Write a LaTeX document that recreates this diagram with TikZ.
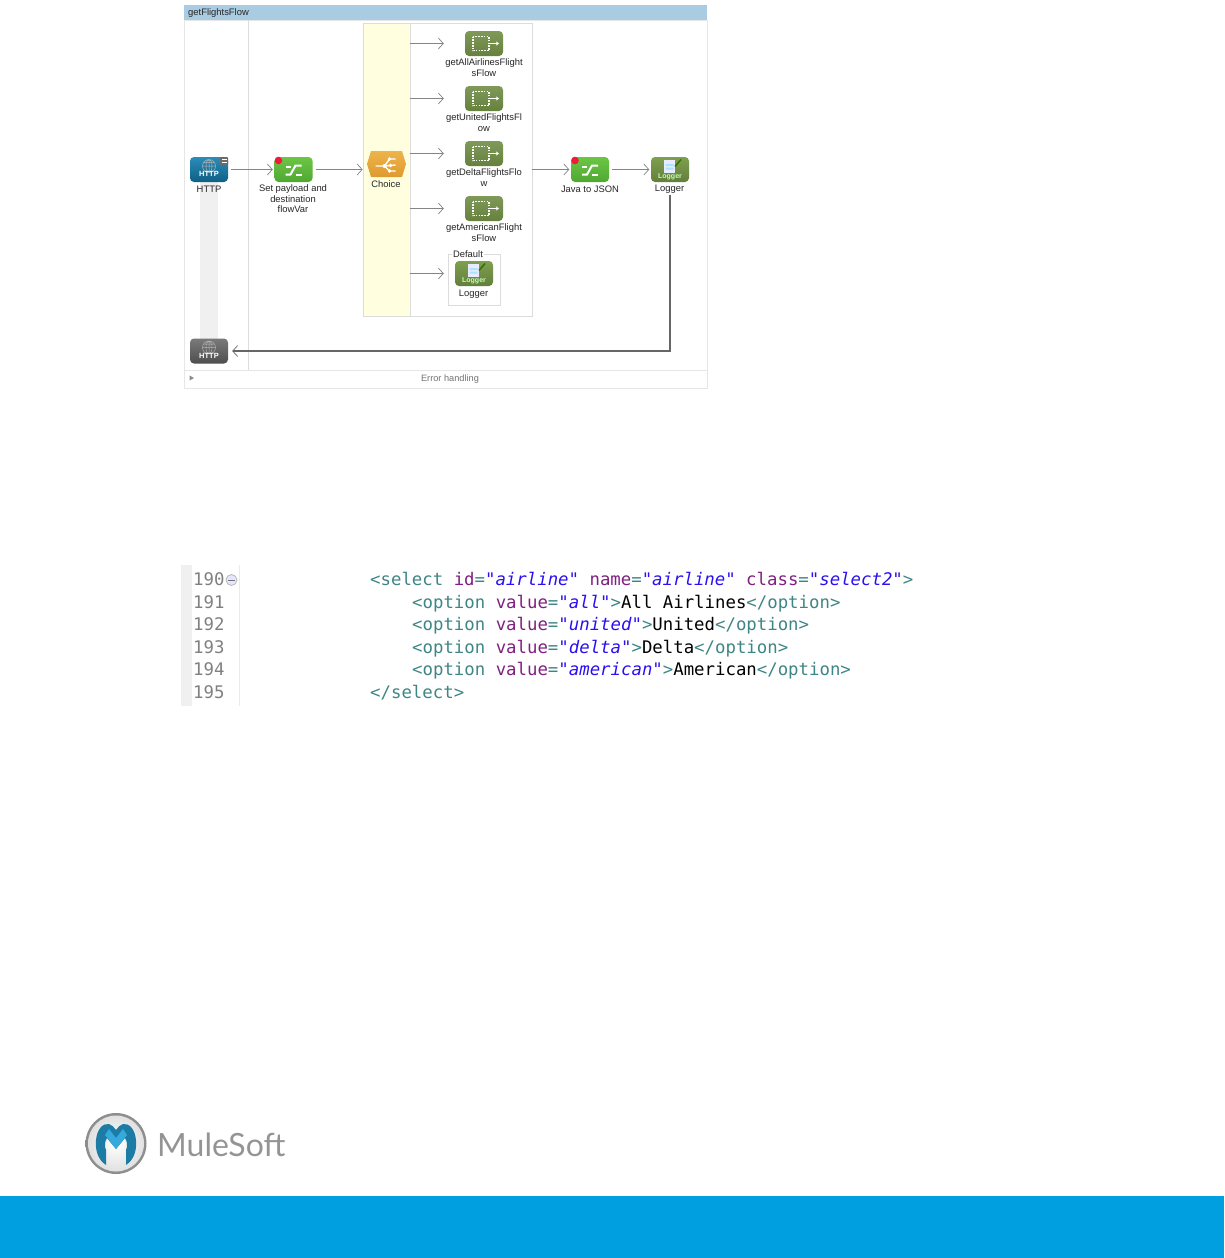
\documentclass[tikz,border=0pt]{standalone}
\usepackage{fontspec}
\setmainfont{Liberation Sans}
\newfontfamily\codefont{DejaVu Sans Mono}
\newfontfamily\logofont{Lato}
\usetikzlibrary{arrows.meta,calc,shapes.geometric}
\definecolor{tagc}{HTML}{3F8585}
\definecolor{attrc}{HTML}{7F1F7F}
\definecolor{valc}{HTML}{2A10F0}
\definecolor{framec}{HTML}{DCDCDC}
\definecolor{connc}{HTML}{858585}
\definecolor{titlec}{HTML}{A9CCE2}
\definecolor{barc}{HTML}{009FE0}
\definecolor{laneyc}{HTML}{FFFFE0}
\definecolor{httpT}{HTML}{2A8DB8}
\definecolor{httpB}{HTML}{0F5F85}
\definecolor{retT}{HTML}{7A7A7A}
\definecolor{retB}{HTML}{4E4E4E}
\definecolor{greenT}{HTML}{6CC644}
\definecolor{greenB}{HTML}{4FA832}
\definecolor{oliveT}{HTML}{7F9A58}
\definecolor{oliveB}{HTML}{66813E}
\definecolor{logT}{HTML}{7E9F50}
\definecolor{logB}{HTML}{637F3A}
\definecolor{hexT}{HTML}{EDB44C}
\definecolor{hexB}{HTML}{DE9A2E}
\definecolor{logoD}{HTML}{1D7CA6}
\definecolor{logoL}{HTML}{35A9DC}
\definecolor{dotc}{HTML}{EE1C3A}
\tikzset{
  conn/.style={draw=connc,line width=.9pt,-{Straight Barb[length=5pt,width=11pt,line width=.7pt]}},
  frameline/.style={draw=framec,line width=.8pt},
  iconbase/.style={rounded corners=4pt,minimum width=38pt,minimum height=25pt,inner sep=0pt,draw=none},
  httpicon/.style={iconbase,top color=httpT,bottom color=httpB},
  reticon/.style={iconbase,top color=retT,bottom color=retB},
  switchicon/.style={iconbase,top color=greenT,bottom color=greenB},
  flowicon/.style={iconbase,top color=oliveT,bottom color=oliveB},
  logicon/.style={iconbase,top color=logT,bottom color=logB},
  lbl/.style={font=\fontsize{9.4}{10.6}\selectfont,align=center,inner sep=0pt,text=black!85},
  glyph/.style={draw=white,line width=2pt},
  code/.style={font=\codefont\fontsize{17.35}{20}\selectfont,anchor=base west,inner sep=0pt,text=tagc},
  lineno/.style={font=\codefont\fontsize{17.35}{20}\selectfont,anchor=base west,inner sep=0pt,text=black!50}
}
\newcommand{\tg}[1]{\textcolor{tagc}{#1}}
\newcommand{\at}[1]{\textcolor{attrc}{#1}}
\newcommand{\vl}[1]{\textcolor{valc}{\itshape #1}}
\newcommand{\tx}[1]{\textcolor{black}{#1}}
\newcommand{\switchglyph}[1]{%
  \begin{scope}[shift={(#1.center)}]
    \draw[glyph] (-8,-3)--(-3,-3);
    \draw[glyph] (-8,5)--(-3,5)--(2,-4)--(8,-4);
    \draw[glyph] (2,5)--(8,5);
    \fill[dotc] (-15,-9) circle (3.8);
  \end{scope}}
\newcommand{\flowglyph}[1]{%
  \begin{scope}[shift={(#1.center)}]
    \draw[white,line width=1.2pt,dash pattern=on 1.6pt off 1.2pt] (-11,-7) rectangle (5,7);
    \draw[white,line width=1.2pt,-{Stealth[length=3pt,width=4pt]}] (5,0)--(15,0);
  \end{scope}}
\newcommand{\loggerglyph}[1]{%
  \begin{scope}[shift={(#1.center)}]
    \fill[white!92!blue] (-6,-9.5) rectangle (5,3);
    \fill[blue!30!cyan!35!white] (-4.5,-5.5) rectangle (3.5,-3.5) (-4.5,-2) rectangle (3.5,0);
    \draw[black!70!green!80!yellow,line width=1.5pt] (5,-3)--(11,-10);
    \node[font=\bfseries\fontsize{7}{7}\selectfont,text=white!75!green,inner sep=0pt] (#1-t) at (0,7) {Logger};
  \end{scope}}
\newcommand{\httpglyph}[1]{%
  \begin{scope}[shift={(#1.center)}]
    \draw[white!70!black,line width=.5pt] (0,-3.5) circle (6.5) (0,-3.5) ellipse (3 and 6.5) (-6.5,-3.5)--(6.5,-3.5) (-5.5,-7)--(5.5,-7) (0,-10)--(0,3);
    \node[font=\bfseries\fontsize{7.5}{7}\selectfont,text=white,inner sep=0pt] (#1-t) at (0,4.5) {HTTP};
  \end{scope}}
\begin{document}
\begin{tikzpicture}[x=1pt,y=-1pt]
\useasboundingbox (0,0) rectangle (1224,1258);
% flow frame
\node[draw=framec!70,line width=.8pt,minimum width=523pt,minimum height=368pt,inner sep=0pt,fill=white] (frame) at (445.5,204) {};
\node[fill=black!6,minimum width=18pt,minimum height=160pt,inner sep=0pt] (band) at (209,260) {};
\draw[frameline] (248,20) -- (248,370);
\node[fill=white,minimum width=523pt,minimum height=18pt,inner sep=0pt,draw=framec!70,line width=.8pt] (errbar) at (445.5,379) {};
\node[fill=titlec,minimum width=523pt,minimum height=15pt,inner sep=0pt] (title) at (445.5,12.5) {};
\node[font=\fontsize{9.4}{10}\selectfont,anchor=west,inner sep=0pt,text=black!85] (titlet) at (188,13) {getFlightsFlow};
\node[font=\fontsize{9.2}{10}\selectfont,inner sep=0pt,text=black!55] (errt) at (450,379.5) {Error handling};
\node[fill=black!45,regular polygon,regular polygon sides=3,shape border rotate=-90,minimum size=6pt,inner sep=0pt] (tri) at (191,378) {};
% choice
\node[draw=framec,line width=.8pt,fill=white,minimum width=169pt,minimum height=293pt,inner sep=0pt] (outer) at (447.5,169.5) {};
\node[draw=framec,line width=.8pt,fill=laneyc,minimum width=47pt,minimum height=293pt,inner sep=0pt] (lane) at (386.5,169.5) {};
% source
\node[httpicon] (http) at (209,169.5) {};
\httpglyph{http}
\node[fill=black!58,minimum size=8pt,inner sep=0pt,rounded corners=1pt] (httpx) at (224,161) {};
\draw[white,line width=.7pt] (221.5,159.5)--(226.5,159.5) (221.5,162.5)--(226.5,162.5);
\node[lbl] (httpl) at (209,189.5) {HTTP};
% return http
\node[reticon] (ret) at (209,351) {};
\httpglyph{ret}
% set payload
\node[switchicon] (setp) at (293.5,169.5) {};
\switchglyph{setp}
\node[lbl,anchor=north] (setpl) at (293,184.5) {Set payload and\\destination\\flowVar};
% choice icon
\coordinate (chc) at (386.5,164);
\path[top color=hexT,bottom color=hexB] (367,164)--(371,151)--(402,151)--(406,164)--(402,177)--(371,177)--cycle;
\begin{scope}[shift={(chc)}]
  \draw[white,line width=1.4pt] (-11,2)--(-2,2)--(3,-5)--(9,-5) (-2,2)--(9,1) (-2,2)--(3,7)--(9,7);
  \fill[white] (-2,2) circle (2) (3,-5) circle (1.8) (4,1.5) circle (1.8) (3,7) circle (1.8);
\end{scope}
\node[lbl] (chl) at (386,184) {Choice};
% flow refs
\node[flowicon] (r1) at (484,43.5) {};
\node[flowicon] (r2) at (484,98.5) {};
\node[flowicon] (r3) at (484,153.5) {};
\node[flowicon] (r4) at (484,208.5) {};
\flowglyph{r1}\flowglyph{r2}\flowglyph{r3}\flowglyph{r4}
\node[lbl,anchor=north] (r1l) at (484,58.5) {getAllAirlinesFlight\\sFlow};
\node[lbl,anchor=north] (r2l) at (484,113.5) {getUnitedFlightsFl\\ow};
\node[lbl,anchor=north] (r3l) at (484,168.5) {getDeltaFlightsFlo\\w};
\node[lbl,anchor=north] (r4l) at (484,223.5) {getAmericanFlight\\sFlow};
% default
\node[draw=framec,line width=.8pt,minimum width=52pt,minimum height=51pt,inner sep=0pt] (def) at (474,279.5) {};
\node[lbl,fill=white,inner xsep=1pt,inner ysep=0pt] (deft) at (468,254.5) {Default};
\node[logicon] (dl) at (474,273.5) {};
\loggerglyph{dl}
\node[lbl] (dll) at (473.5,294.5) {Logger};
% java to json
\node[switchicon] (java) at (590,169.5) {};
\switchglyph{java}
\node[lbl] (javal) at (590,189.5) {Java to JSON};
% logger
\node[logicon] (log) at (670,169.5) {};
\loggerglyph{log}
\node[lbl] (logl) at (669.5,189.5) {Logger};
% connectors
\draw[conn,shorten <=3pt,shorten >=1.5pt] (http) -- (setp);
\draw[conn,shorten <=3pt] (setp) -- (setp -| lane.west);
\draw[conn] (lane.east |- r1) -- ([xshift=-21pt]r1.west);
\draw[conn] (lane.east |- r2) -- ([xshift=-21pt]r2.west);
\draw[conn] (lane.east |- r3) -- ([xshift=-21pt]r3.west);
\draw[conn] (lane.east |- r4) -- ([xshift=-21pt]r4.west);
\draw[conn] (lane.east |- dl) -- ([xshift=-11pt]dl.west);
\draw[conn,shorten >=1.5pt] (outer.east |- java) -- (java);
\draw[conn,shorten <=3pt,shorten >=1.5pt] (java) -- (log);
\draw[conn,draw=black!60,line width=1.1pt,shorten <=1pt,shorten >=4pt] (logl.south -| log) -- (log |- ret) -- (ret.east);
% code
\node[fill=black!6,minimum width=11pt,minimum height=141pt,inner sep=0pt] (gutter) at (186.5,635.5) {};
\draw[black!8,line width=.8pt] (239,565) -- (239,706);
\node[circle,draw=black!30,fill=blue!10!white,minimum size=11pt,inner sep=0pt,line width=.7pt] (fold) at (231.5,580) {};
\draw[black!55,line width=.8pt] (228,580) -- (235,580);
\node[lineno] (n0) at (193,585.5) {190};
\node[lineno] (n1) at (193,608) {191};
\node[lineno] (n2) at (193,630.5) {192};
\node[lineno] (n3) at (193,653) {193};
\node[lineno] (n4) at (193,675.5) {194};
\node[lineno] (n5) at (193,698) {195};
\node[code] (c0) at (370,585.5) {\tg{<select} \at{id}\tg{=}\vl{"airline"} \at{name}\tg{=}\vl{"airline"} \at{class}\tg{=}\vl{"select2"}\tg{>}};
\node[code] (c1) at (412,608) {\tg{<option} \at{value}\tg{=}\vl{"all"}\tg{>}\tx{All Airlines}\tg{</option>}};
\node[code] (c2) at (412,630.5) {\tg{<option} \at{value}\tg{=}\vl{"united"}\tg{>}\tx{United}\tg{</option>}};
\node[code] (c3) at (412,653) {\tg{<option} \at{value}\tg{=}\vl{"delta"}\tg{>}\tx{Delta}\tg{</option>}};
\node[code] (c4) at (412,675.5) {\tg{<option} \at{value}\tg{=}\vl{"american"}\tg{>}\tx{American}\tg{</option>}};
\node[code] (c5) at (370,698) {\tg{</select>}};
% logo
\shade[outer color=black!45,inner color=black!30] (116,1143.5) circle (30.5);
\shade[inner color=white,outer color=black!12] (116,1143.5) circle (28);
\fill[logoD] (106,1165) .. controls (98,1160) and (95,1150) .. (96,1140) .. controls (97,1129) and (103,1123) .. (109,1124) .. controls (112,1125) and (114,1127) .. (116,1130) .. controls (118,1127) and (120,1125) .. (123,1124) .. controls (129,1123) and (135,1129) .. (136,1140) .. controls (137,1150) and (134,1160) .. (126,1165) -- (126,1150) .. controls (128,1146) and (127,1141) .. (125,1138) -- (116,1149) -- (107,1138) .. controls (105,1141) and (104,1146) .. (106,1150) -- cycle;
\fill[logoL] (109,1129) -- (116,1138) -- (123,1129) -- (127,1135) -- (116,1149) -- (105,1135) -- cycle;
\node[font=\logofont\fontsize{32}{32}\selectfont,text=black!42,anchor=base west,inner sep=0pt] (logo) at (157,1156) {MuleSoft};
\fill[barc] (0,1196) rectangle (1224,1258);
\end{tikzpicture}
\end{document}
